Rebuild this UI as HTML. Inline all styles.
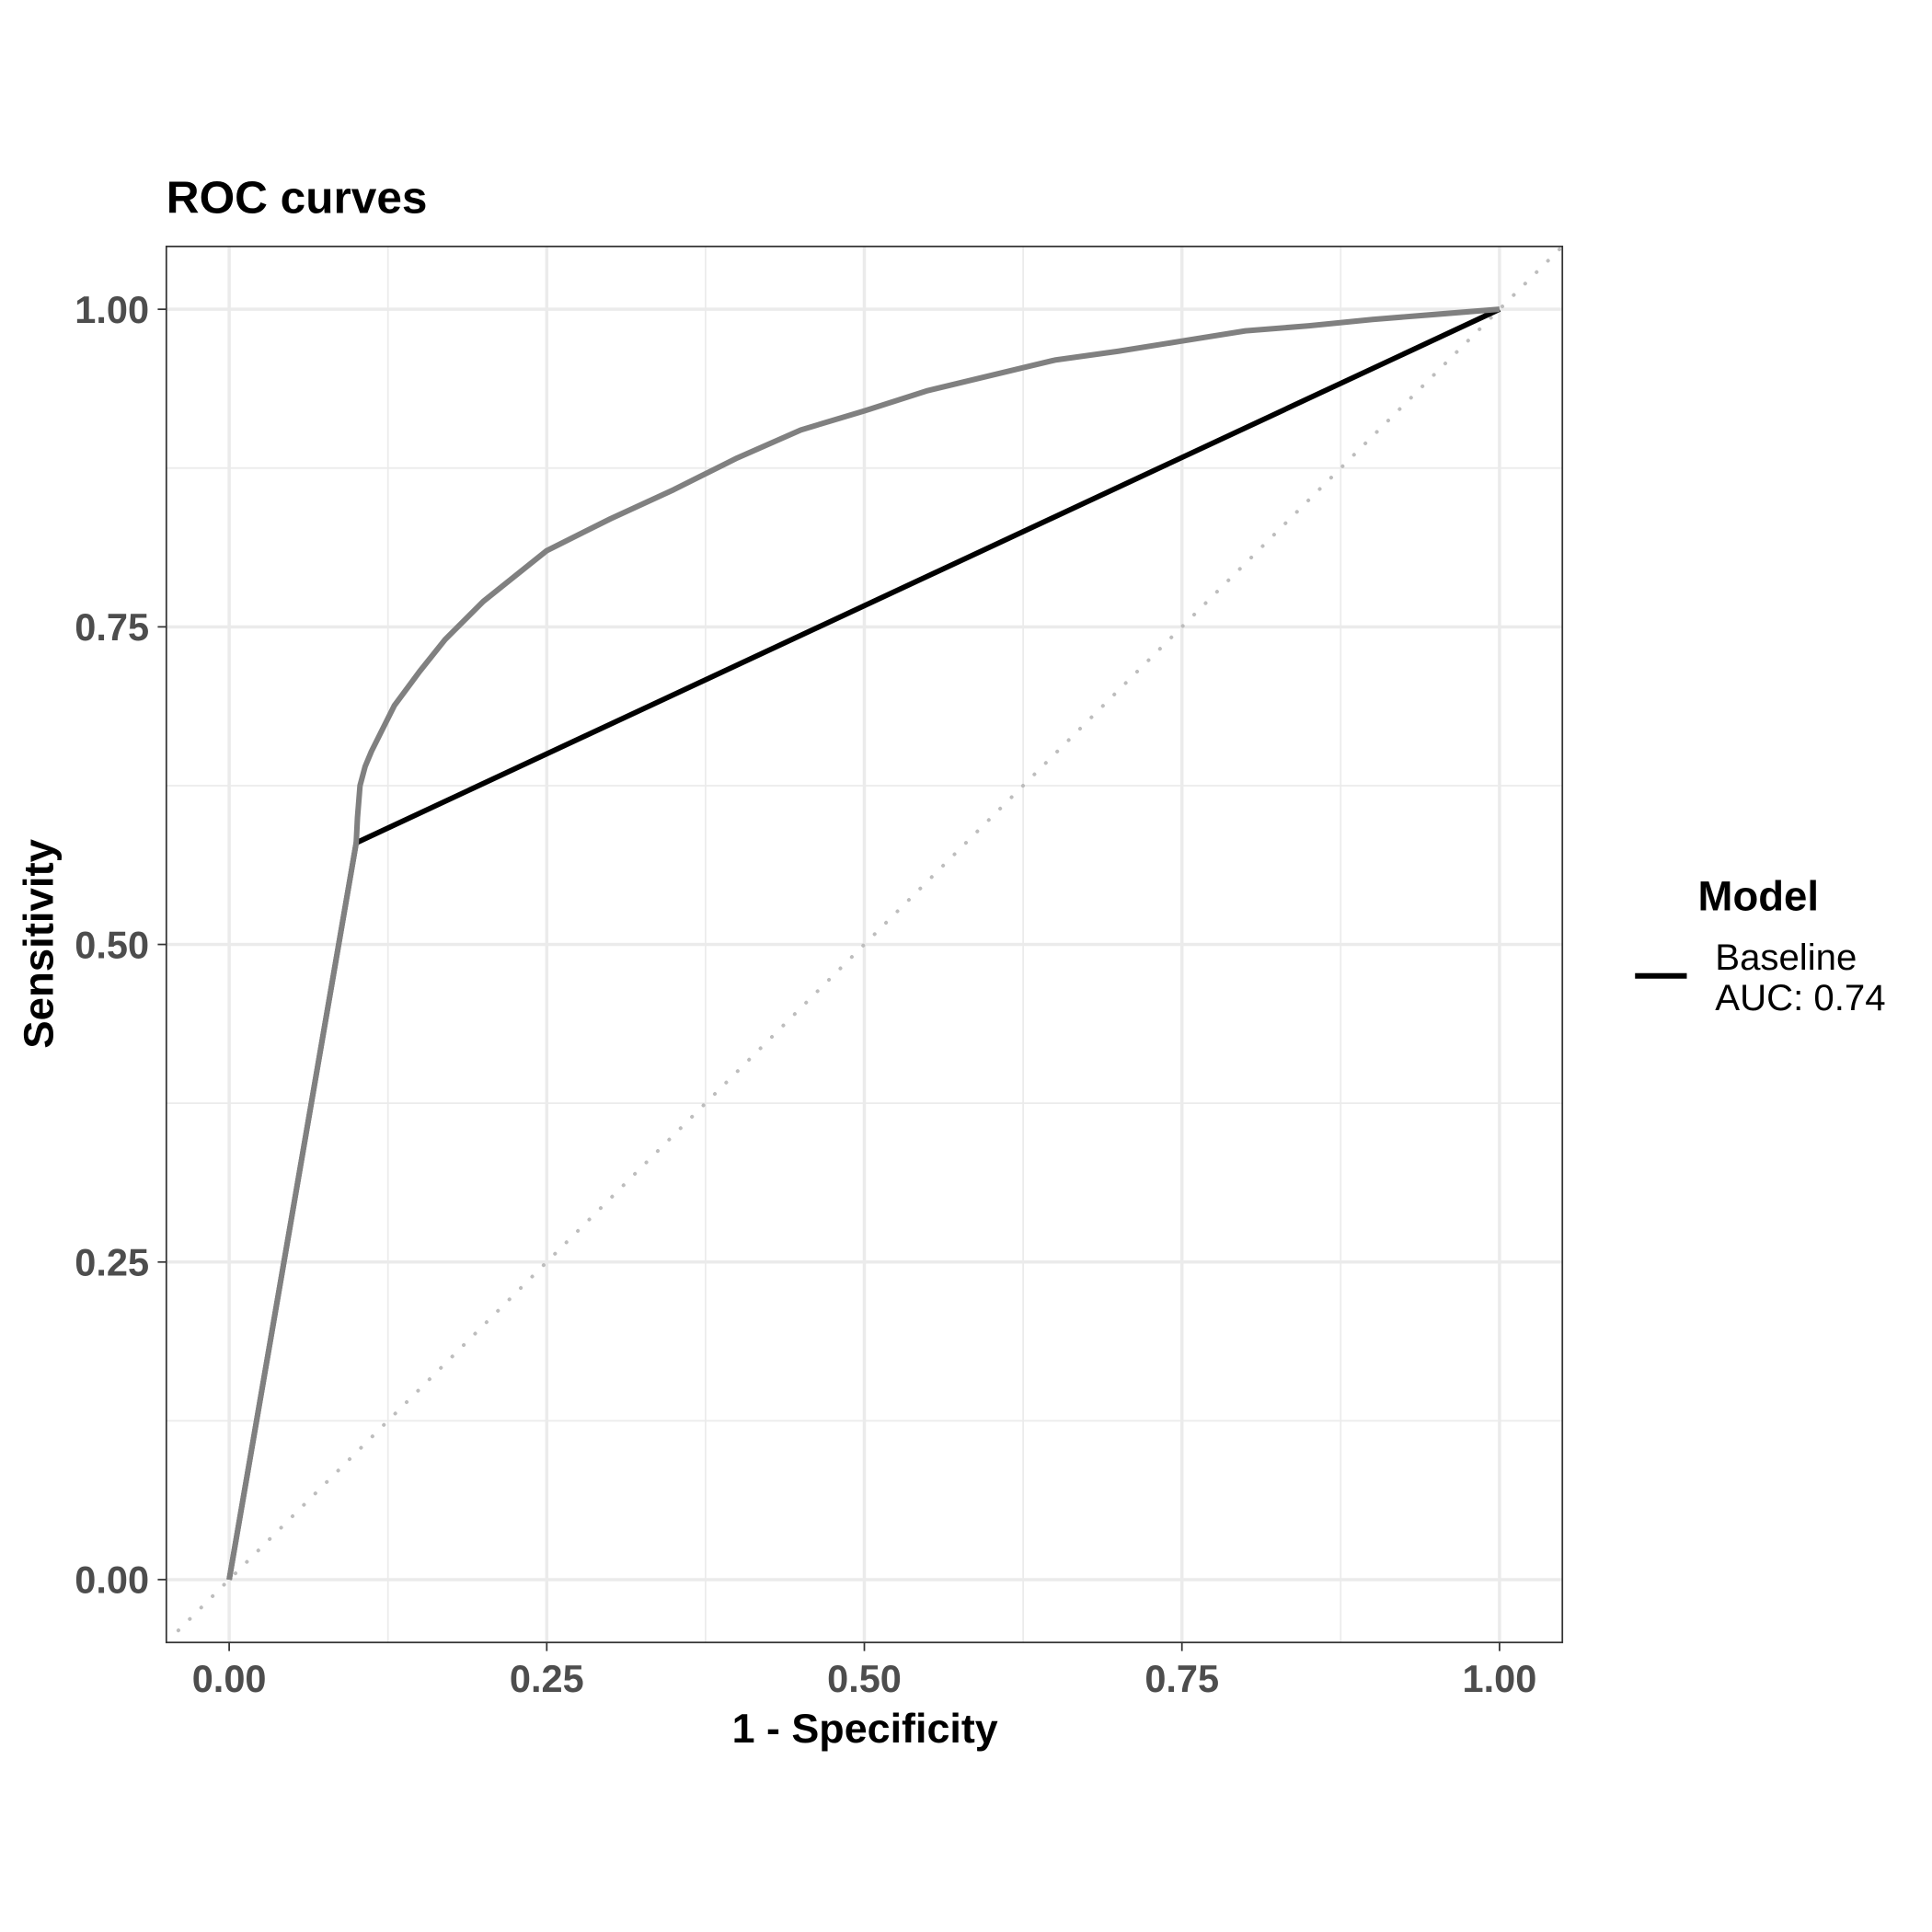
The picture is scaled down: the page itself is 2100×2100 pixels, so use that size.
<!DOCTYPE html>
<html><head><meta charset="utf-8"><style>body{margin:0;background:#fff}svg{display:block}text{font-family:"Liberation Sans",sans-serif}</style></head>
<body>
<svg id="chart" width="2100" height="2100" viewBox="0 0 1568 1568" xmlns="http://www.w3.org/2000/svg">
<g id="grid"></g>
<g id="marks"></g>
<rect x="135" y="200" width="1133" height="1133" fill="none" stroke="#333" stroke-width="1.3"/>
<g id="ticks"></g>
<text x="135" y="173" font-size="37" font-weight="bold">ROC curves</text>
<text x="702" y="1414" font-size="33.5" font-weight="bold" text-anchor="middle">1 - Specificity</text>
<text transform="translate(43,766) rotate(-90)" font-size="34" font-weight="bold" text-anchor="middle">Sensitivity</text>
<g>
<text x="1378" y="739" font-size="34" font-weight="bold">Model</text>
<line x1="1327" y1="792" x2="1369" y2="792" stroke="#000" stroke-width="4.5"/>
<text x="1392" y="787" font-size="30">Baseline</text>
<text x="1392" y="820" font-size="30">AUC: 0.74</text>
</g>
</svg>
<script>
const xTicks=[0,0.25,0.5,0.75,1];
const yTicks=[0,0.25,0.5,0.75,1];
const tickLabels=["0.00","0.25","0.50","0.75","1.00"];
const curveFPR=[0,0.1,0.101,0.103,0.107,0.112,0.12,0.13,0.15,0.17,0.2,0.25,0.3,0.35,0.4,0.45,0.5,0.55,0.6,0.65,0.7,0.75,0.8,0.85,0.9,0.95,1];
const curveTPR=[0,0.58,0.6,0.625,0.64,0.652,0.668,0.688,0.715,0.74,0.77,0.81,0.835,0.858,0.883,0.905,0.92,0.936,0.948,0.96,0.967,0.975,0.983,0.987,0.992,0.996,1];
const baseFPR=[0,0.1,1];
const baseTPR=[0,0.58,1];
const NS="http://www.w3.org/2000/svg";
const X=v=>186+v*1031, Y=v=>1282-v*1031;
function mk(tag,attrs,parent){const e=document.createElementNS(NS,tag);for(const k in attrs)e.setAttribute(k,attrs[k]);parent.appendChild(e);return e;}
const grid=document.getElementById('grid'),marks=document.getElementById('marks'),ticks=document.getElementById('ticks');
mk('rect',{x:135,y:200,width:1133,height:1133,fill:'#fff'},grid);
for(let i=0;i<xTicks.length-1;i++){const m=(xTicks[i]+xTicks[i+1])/2;
 let l=mk('line',{x1:X(m),x2:X(m),y1:200,y2:1333,stroke:'#ebebeb','stroke-width':1.3},grid);
 
 const n=(yTicks[i]+yTicks[i+1])/2;
 l=mk('line',{y1:Y(n),y2:Y(n),x1:135,x2:1268,stroke:'#ebebeb','stroke-width':1.3},grid);
 }
xTicks.forEach((v,i)=>{let l=mk('line',{x1:X(v),x2:X(v),y1:200,y2:1333,stroke:'#ebebeb','stroke-width':2.6},grid);
 
 l=mk('line',{x1:X(v),x2:X(v),y1:1333,y2:1340,stroke:'#333','stroke-width':1.3},ticks);
 
 const t=mk('text',{x:X(v),y:1373,'font-size':31,'font-weight':'bold',fill:'#4d4d4d','text-anchor':'middle'},ticks);t.textContent=tickLabels[i];
 });
yTicks.forEach((v,i)=>{let l=mk('line',{y1:Y(v),y2:Y(v),x1:135,x2:1268,stroke:'#ebebeb','stroke-width':2.6},grid);
 
 l=mk('line',{y1:Y(v),y2:Y(v),x1:128,x2:135,stroke:'#333','stroke-width':1.3},ticks);
 
 const t=mk('text',{x:121,y:Y(v)+11,'font-size':31,'font-weight':'bold',fill:'#4d4d4d','text-anchor':'end'},ticks);t.textContent=tickLabels[i];
 });
let d=mk('line',{x1:X(-0.04),y1:Y(-0.04),x2:X(1.05),y2:Y(1.05),stroke:'#bdbdbd','stroke-width':3,'stroke-dasharray':'0.1 13','stroke-linecap':'round'},marks);

let b=mk('polyline',{points:baseFPR.map((v,i)=>X(v)+','+Y(baseTPR[i])).join(' '),fill:'none',stroke:'#000','stroke-width':4.3},marks);

let c=mk('polyline',{points:curveFPR.map((v,i)=>X(v)+','+Y(curveTPR[i])).join(' '),fill:'none',stroke:'#808080','stroke-width':4.5,'stroke-linejoin':'round'},marks);

</script>
</body></html>
